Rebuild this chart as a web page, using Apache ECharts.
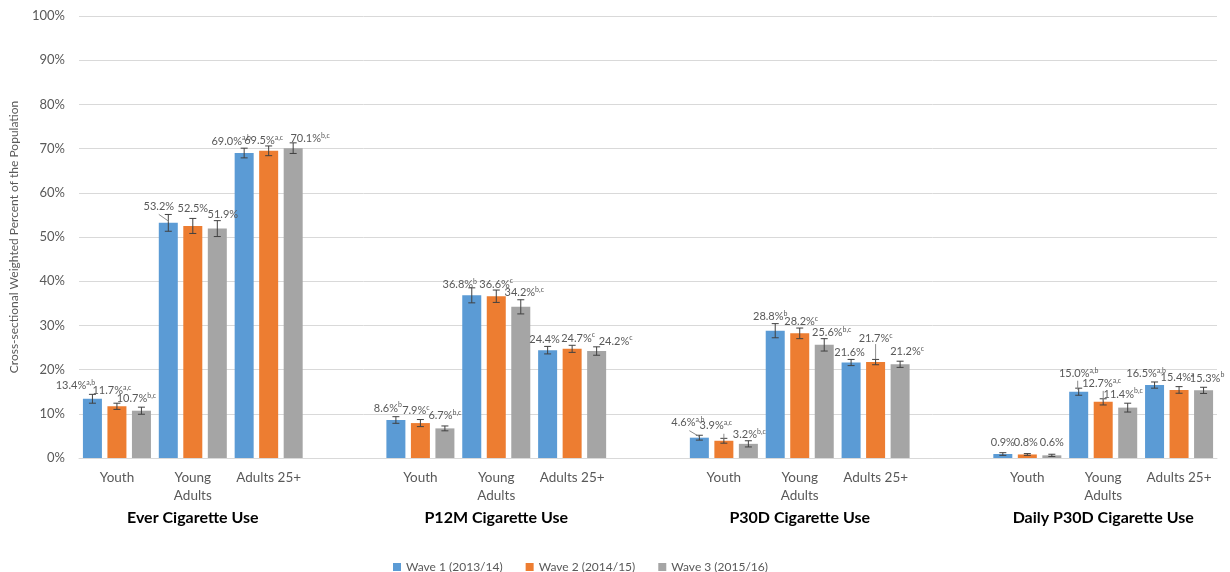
<!DOCTYPE html>
<html><head><meta charset="utf-8">
<script src="https://cdn.jsdelivr.net/npm/echarts@6/dist/echarts.min.js"></script>
<style>html,body{margin:0;padding:0;background:#fff}#c{width:1230px;height:572px}</style>
</head><body><div id="c"></div>
<script>
// ---- data ----
const categories = ['Youth', 'Young\nAdults', 'Adults 25+', '', 'Youth', 'Young\nAdults', 'Adults 25+', '', 'Youth', 'Young\nAdults', 'Adults 25+', '', 'Youth', 'Young\nAdults', 'Adults 25+'];
const groupLabels = ['', 'Ever Cigarette Use', '', '', '', 'P12M Cigarette Use', '', '', '', 'P30D Cigarette Use', '', '', '', 'Daily P30D Cigarette Use', ''];
const waveNames = ['Wave 1 (2013/14)', 'Wave 2 (2014/15)', 'Wave 3 (2015/16)'];
const yTicks = [0, 10, 20, 30, 40, 50, 60, 70, 80, 90, 100];

const wave1 = [13.4, 53.2, 69.0, null, 8.6, 36.8, 24.4, null, 4.6, 28.8, 21.6, null, 0.9, 15.0, 16.5];
const wave2 = [11.7, 52.5, 69.5, null, 7.9, 36.6, 24.7, null, 3.9, 28.2, 21.7, null, 0.8, 12.7, 15.4];
const wave3 = [10.7, 51.9, 70.1, null, 6.7, 34.2, 24.2, null, 3.2, 25.6, 21.2, null, 0.6, 11.4, 15.3];

const err1 = [1.0, 1.9, 1.1, null, 0.75, 1.7, 0.85, null, 0.55, 1.6, 0.7, null, 0.3, 0.8, 0.7];
const err2 = [0.7, 1.7, 1.1, null, 0.8, 1.4, 0.8, null, 0.55, 1.2, 0.6, null, 0.2, 0.7, 0.75];
const err3 = [0.8, 1.8, 1.2, null, 0.55, 1.6, 0.95, null, 0.7, 1.4, 0.7, null, 0.25, 1.0, 0.7];

const sup1 = ['a,b', '', 'a,b', null, 'b', 'b', '', null, 'a,b', 'b', '', null, '', 'a,b', 'a,b'];
const sup2 = ['a,c', '', 'a,c', null, 'c', 'c', 'c', null, 'a,c', 'c', 'c', null, '', 'a,c', 'a'];
const sup3 = ['b,c', '', 'b,c', null, 'b,c', 'b,c', 'c', null, 'b,c', 'b,c', 'c', null, '', 'b,c', 'b'];

// ---- layout (label offsets relative to bar top, px) ----
const off1 = [[-17,-13],[-9.5,-16.5],[-13,-12],null,[-8,-12],[-12,-11],[-3,-10.3],null,[-11.5,-15],[-5,-14],[-1.5,-10],null,[0,-11.7],[0,-18],[-8.5,-11.7]];
const off2 = [[-5,-16],[0,-17.6],[-5,-10],null,[-4.5,-12.3],[0,-12],[6,-10.7],null,[-8,-15],[1.5,-11.5],[0,-23.7],null,[-1.5,-12],[-1.5,-18],[-1.5,-12]];
const off3 = [[-5,-12],[5.5,-14],[17,-9.5],null,[0,-12.6],[3.5,-14],[19,-10],null,[1,-9],[7.5,-12.4],[7,-12.5],null,[0,-13],[-4.5,-13.5],[3.5,-12.3]];
const lead1 = {1: [-9.5,-8.5,0.5,-1.5], 8: [-10,-7,0,-1], 13: [-1,-11,-1,-2]};
const lead2 = {8: [0,-7,0,-2], 10: [0,-18,0,-3], 13: [0,-11,0,-1]};
const lead3 = {};

const COLORS = ['#5B9BD5', '#ED7D31', '#A5A5A5'];
const FONT = 'Lato, "Open Sans", sans-serif';
const TXT = '#595959';
const BAR_STEP = 24.5;
const CAP = 3.5;
const ERR_COLOR = '#404040';

function barSeries(wi, vals) {
  return {
    type: 'bar', name: waveNames[wi], data: vals,
    barWidth: 19, barGap: '29%',
    itemStyle: {color: COLORS[wi]},
    xAxisIndex: 0, yAxisIndex: 0
  };
}

function errSeries(wi, vals, errs, sups, offs, leads) {
  const data = [];
  vals.forEach((v, i) => { if (v != null) data.push([i, v, errs[i], i]); });
  return {
    type: 'custom', name: 'err' + wi, silent: true, z: 5,
    xAxisIndex: 0, yAxisIndex: 0,
    encode: {x: 0, y: 1},
    data: data,
    renderItem: function (params, api) {
      const idx = api.value(0), v = api.value(1), e = api.value(2), k = api.value(3);
      const base = api.coord([idx, v]);
      const x = base[0] + (wi - 1) * BAR_STEP;
      const y0 = base[1];
      const yT = api.coord([idx, v + e])[1];
      const yB = api.coord([idx, v - e])[1];
      const ls = {stroke: ERR_COLOR, lineWidth: 1};
      const children = [
        {type: 'line', shape: {x1: x, y1: yT, x2: x, y2: yB}, style: ls},
        {type: 'line', shape: {x1: x - CAP, y1: yT, x2: x + CAP, y2: yT}, style: ls},
        {type: 'line', shape: {x1: x - CAP, y1: yB, x2: x + CAP, y2: yB}, style: ls}
      ];
      const o = offs[k];
      const sup = sups[k];
      children.push({
        type: 'text',
        style: {
          text: '{m|' + vals[k].toFixed(1) + '%}' + (sup ? '{s|' + sup + '}' : ''),
          rich: {
            m: {fontSize: 11, fontFamily: FONT, fill: TXT, color: TXT, lineHeight: 13},
            s: {fontSize: 7, fontFamily: FONT, fill: TXT, color: TXT, verticalAlign: 'top', lineHeight: 7}
          },
          x: x + o[0], y: y0 + o[1],
          align: 'center', verticalAlign: 'middle',
          fill: TXT, fontFamily: FONT, fontSize: 11
        }
      });
      const L = leads[k];
      if (L) {
        children.push({type: 'line', shape: {x1: x + L[0], y1: y0 + L[1], x2: x + L[2], y2: y0 + L[3]}, style: {stroke: '#8c8c8c', lineWidth: 1}});
      }
      return {type: 'group', children: children};
    }
  };
}

const chart = echarts.init(document.getElementById('c'), null, {renderer: 'canvas'});
chart.setOption({
  animation: false,
  backgroundColor: '#fff',
  textStyle: {fontFamily: FONT},
  grid: {left: 77, right: 13, top: 16, bottom: 114, containLabel: false},
  legend: {
    data: waveNames, left: 388, top: 556, icon: 'rect', itemWidth: 8, itemHeight: 8, itemGap: 23,
    textStyle: {fontSize: 12, color: TXT, fontFamily: FONT}
  },
  xAxis: [
    {
      type: 'category', data: categories, position: 'bottom',
      axisLine: {show: true, lineStyle: {color: '#D9D9D9'}},
      axisTick: {show: false},
      axisLabel: {interval: 0, margin: 11, fontSize: 13.5, lineHeight: 18, color: TXT, fontFamily: FONT}
    },
    {
      type: 'category', data: groupLabels, position: 'bottom',
      axisLine: {show: false}, axisTick: {show: false}, splitLine: {show: false},
      axisLabel: {interval: 0, margin: 52, fontSize: 16, fontWeight: 'bold', color: '#000', fontFamily: FONT}
    }
  ],
  yAxis: {
    type: 'value', min: yTicks[0], max: yTicks[yTicks.length - 1], interval: 10,
    name: 'Cross-sectional Weighted Percent of the Population',
    nameLocation: 'middle', nameGap: 59,
    nameTextStyle: {fontSize: 12, color: TXT, fontFamily: FONT},
    axisLine: {show: false}, axisTick: {show: false},
    axisLabel: {formatter: '{value}%', margin: 14, fontSize: 13, color: TXT, fontFamily: FONT},
    splitLine: {lineStyle: {color: '#D9D9D9'}}
  },
  series: [
    barSeries(0, wave1), barSeries(1, wave2), barSeries(2, wave3),
    errSeries(0, wave1, err1, sup1, off1, lead1),
    errSeries(1, wave2, err2, sup2, off2, lead2),
    errSeries(2, wave3, err3, sup3, off3, lead3)
  ]
});
</script>
</body></html>
